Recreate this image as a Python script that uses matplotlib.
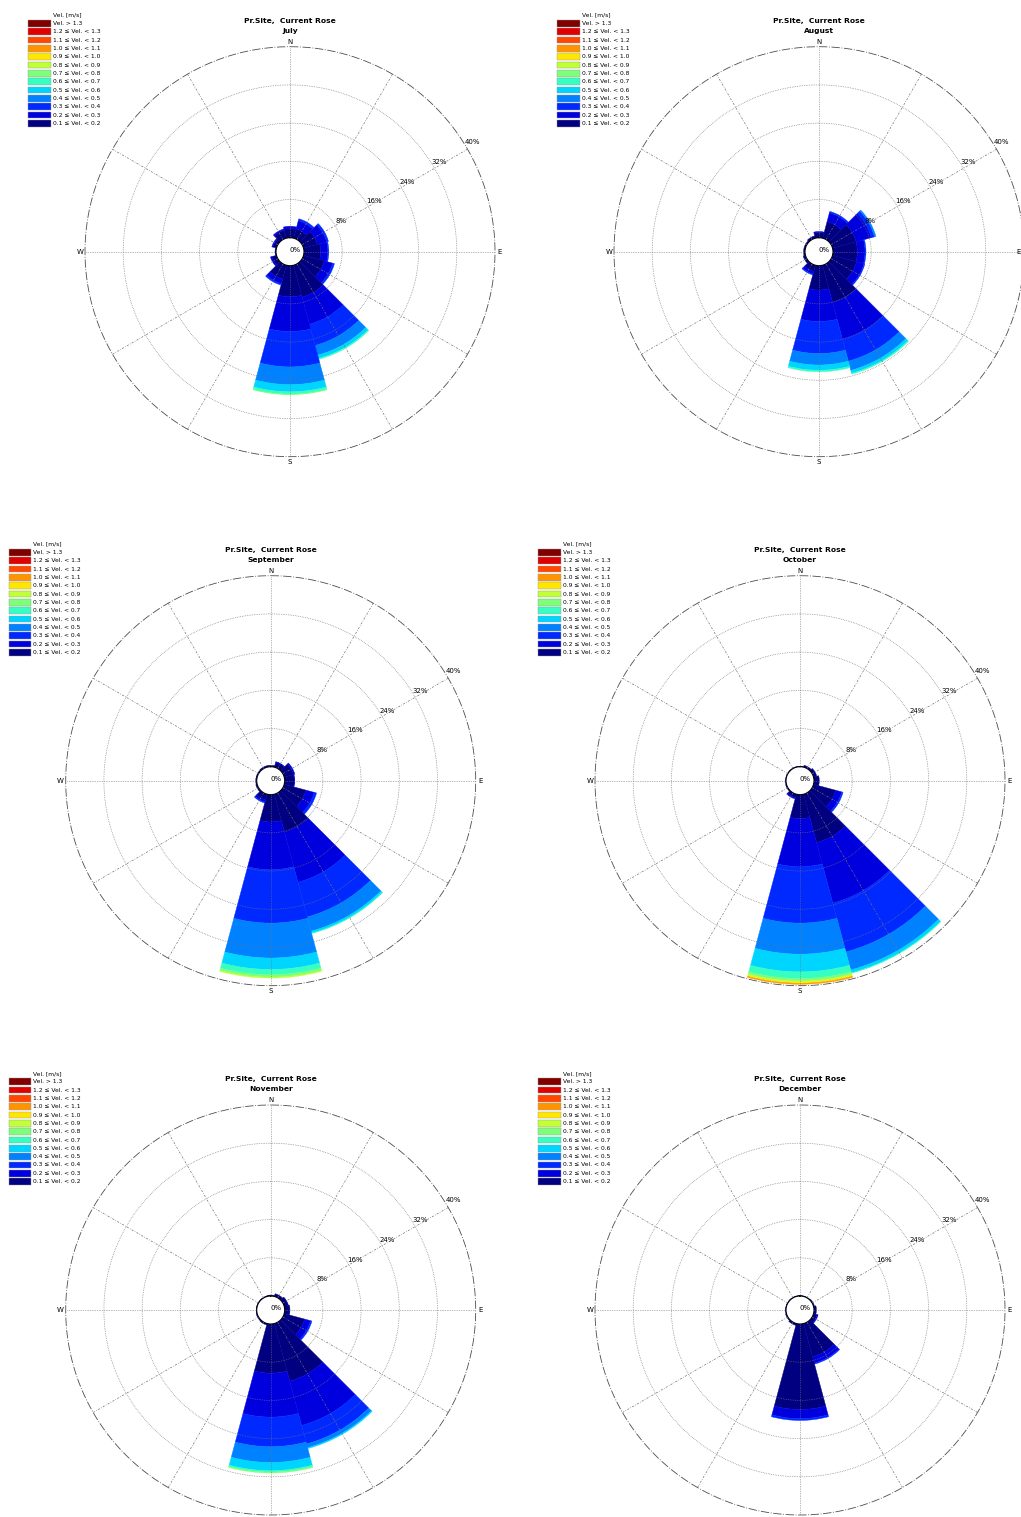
import numpy as np
import matplotlib.pyplot as plt
from matplotlib.patches import Rectangle

W, H = 1021, 1517

months = ['July', 'August', 'September', 'October', 'November', 'December']
directions = [0, 30, 60, 90, 120, 150, 180, 210, 240, 270, 300, 330]
speed_labels = ['0.1 ≤ Vel. < 0.2', '0.2 ≤ Vel. < 0.3', '0.3 ≤ Vel. < 0.4',
                '0.4 ≤ Vel. < 0.5', '0.5 ≤ Vel. < 0.6', '0.6 ≤ Vel. < 0.7',
                '0.7 ≤ Vel. < 0.8', '0.8 ≤ Vel. < 0.9', '0.9 ≤ Vel. < 1.0',
                '1.0 ≤ Vel. < 1.1', '1.1 ≤ Vel. < 1.2', '1.2 ≤ Vel. < 1.3',
                'Vel. > 1.3']
ring_ticks = [8, 16, 24, 32, 40]

# frequency (%) per direction, one value per speed class starting at 0.1-0.2 m/s
july = [[1.9, 0.5], [2.0, 1.8, 0.4], [3.0, 2.0, 0.4], [3.5, 1.5, 0.2],
        [4.5, 1.8, 0.4], [6.9, 5.9, 4.6, 2.1, 0.7, 0.2],
        [6.5, 7.3, 7.4, 3.7, 1.5, 0.5, 0.1], [3.0, 1.0, 0.3], [1.0, 0.3],
        [0.2], [0.8, 0.2], [1.7, 0.3]]
august = [[1.1, 0.2], [3.6, 1.9, 0.3], [5.1, 3.3, 0.7, 0.3], [5.1, 1.6, 0.2],
          [5.2, 1.6, 0.2], [8.1, 8.0, 4.7, 2.0, 0.6, 0.2],
          [5.1, 6.6, 6.7, 2.4, 1.1, 0.3], [1.3, 0.6, 0.2], [0.5],
          [0.3], [0.3], [0.5]]
september = [[0.3], [1.1, 0.1], [2.0, 0.3], [2.0, 0.1], [4.7, 1.8, 0.5],
             [8.2, 10.9, 7.5, 3.1, 0.4, 0.1],
             [5.7, 10.0, 11.2, 7.3, 2.4, 1.1, 0.5, 0.2], [1.2, 0.5, 0.2],
             [0.3], [0.2], [0.2], [0.3]]
october = [[0.1], [0.4], [0.7], [1.1], [4.8, 1.3, 0.3],
           [10.5, 13.1, 10.6, 3.9, 0.6, 0.1],
           [5.0, 10.1, 11.8, 6.5, 3.7, 1.4, 0.5, 0.3, 0.2, 0.2],
           [0.7, 0.3], [0.2], [0.1], [0.1], [0.1]]
november = [[0.2], [0.6], [0.9], [1.1], [4.4, 1.3, 0.3],
            [12.5, 9.6, 4.0, 0.8, 0.2],
            [10.3, 9.2, 6.2, 3.3, 1.7, 0.3, 0.2],
            [0.3], [0.2], [0.1], [0.1], [0.1]]
december = [[0.1], [0.1], [0.2], [0.5], [0.8, 0.2], [7.2, 1.4, 0.2],
            [17.9, 1.9, 0.4], [0.4], [0.2], [0.1], [0.1], [0.1]]

tables = [july, august, september, october, november, december]
centres = [(290, 251.7), (819, 251.7), (270.7, 780.7),
           (800, 780.7), (270.7, 1310), (800, 1310)]

colors = plt.cm.jet(np.linspace(0, 1, len(speed_labels)))

R_PX = 205          # radius of the 40 % circle in pixels
HOLE_PX = 14        # empty circle in the middle
RMAX = 40
r_origin = -RMAX * HOLE_PX / (R_PX - HOLE_PX)
px_per_pct = (R_PX - HOLE_PX) / RMAX

fig = plt.figure(figsize=(W / 100, H / 100), dpi=100)


def fx(x):
    return x / W


def fy(y):
    return 1 - y / H


def draw_rose(cx, cy, month, table):
    ax = fig.add_axes([fx(cx - R_PX), fy(cy + R_PX), 2 * R_PX / W, 2 * R_PX / H],
                      projection='polar')
    ax.set_theta_zero_location('N')
    ax.set_theta_direction(-1)
    ax.set_ylim(0, RMAX)
    ax.set_rorigin(r_origin)
    ax.set_xticks([])
    ax.set_yticks([])
    ax.grid(False)
    ax.spines['polar'].set_visible(False)

    width = np.deg2rad(30)
    for d, vals in zip(directions, table):
        bottom = 0.0
        for k, v in enumerate(vals):
            ax.bar(np.deg2rad(d), v, width=width, bottom=bottom,
                   color=colors[k], edgecolor=colors[k], linewidth=0.3,
                   zorder=2)
            bottom += v

    t = np.linspace(0, 2 * np.pi, 400)
    for r in ring_ticks[:-1]:
        ax.plot(t, np.full_like(t, r), ls=(0, (1, 1.5)), color='0.45',
                lw=0.5, zorder=3)
    ax.plot(t, np.full_like(t, RMAX), ls=(0, (10, 2, 1, 2)), color='0.3',
            lw=0.6, zorder=3, clip_on=False)
    for a in range(0, 360, 30):
        ls = (0, (1, 1.5)) if a % 90 == 0 else (0, (3, 2, 1, 2))
        ax.plot([np.deg2rad(a)] * 2, [0, RMAX], ls=ls, color='0.45', lw=0.5,
                zorder=3)

    for r in ring_ticks:
        ax.text(np.deg2rad(59), r + 1.6, f'{r}%', fontsize=5, ha='center',
                va='center', zorder=4)
    ax.text(0.5 + 5 / (2 * R_PX), 0.5 + 2 / (2 * R_PX), '0%', fontsize=5,
            ha='center', va='center', transform=ax.transAxes, zorder=4)

    # compass letters, skipped where they would fall off the sheet
    gap = 5
    for lab, dx, dy in [('N', 0, -1), ('E', 1, 0), ('S', 0, 1), ('W', -1, 0)]:
        px = cx + dx * (R_PX + gap)
        py = cy + dy * (R_PX + gap)
        if py > H - 4:
            continue
        ha = 'center'
        if px > W - 4:
            px, ha = W - 0.5, 'right'
        fig.text(fx(px), fy(py), lab, fontsize=5, ha=ha, va='center')

    fig.text(fx(cx), fy(cy - 231), 'Pr.Site,  Current Rose', fontsize=5.4,
             fontweight='bold', ha='center', va='center')
    fig.text(fx(cx), fy(cy - 220.7), month, fontsize=5.4, fontweight='bold',
             ha='center', va='center')

    # colour key in the upper left corner
    n = len(speed_labels)
    fig.text(fx(cx - 237.3), fy(cy - 236.4), 'Vel. [m/s]', fontsize=4.3,
             ha='left', va='center')
    for i in range(n):
        k = n - 1 - i
        yc = cy - 228.3 + i * 8.33
        fig.add_artist(Rectangle((fx(cx - 261.7), fy(yc + 3.4)), 22.4 / W,
                                 6.8 / H, transform=fig.transFigure,
                                 facecolor=colors[k], edgecolor='0.6', lw=0.3))
        fig.text(fx(cx - 237.3), fy(yc), speed_labels[k], fontsize=4.3,
                 ha='left', va='center')


for (cx, cy), month, table in zip(centres, months, tables):
    draw_rose(cx, cy, month, table)

fig.savefig('out.png', dpi=100)
